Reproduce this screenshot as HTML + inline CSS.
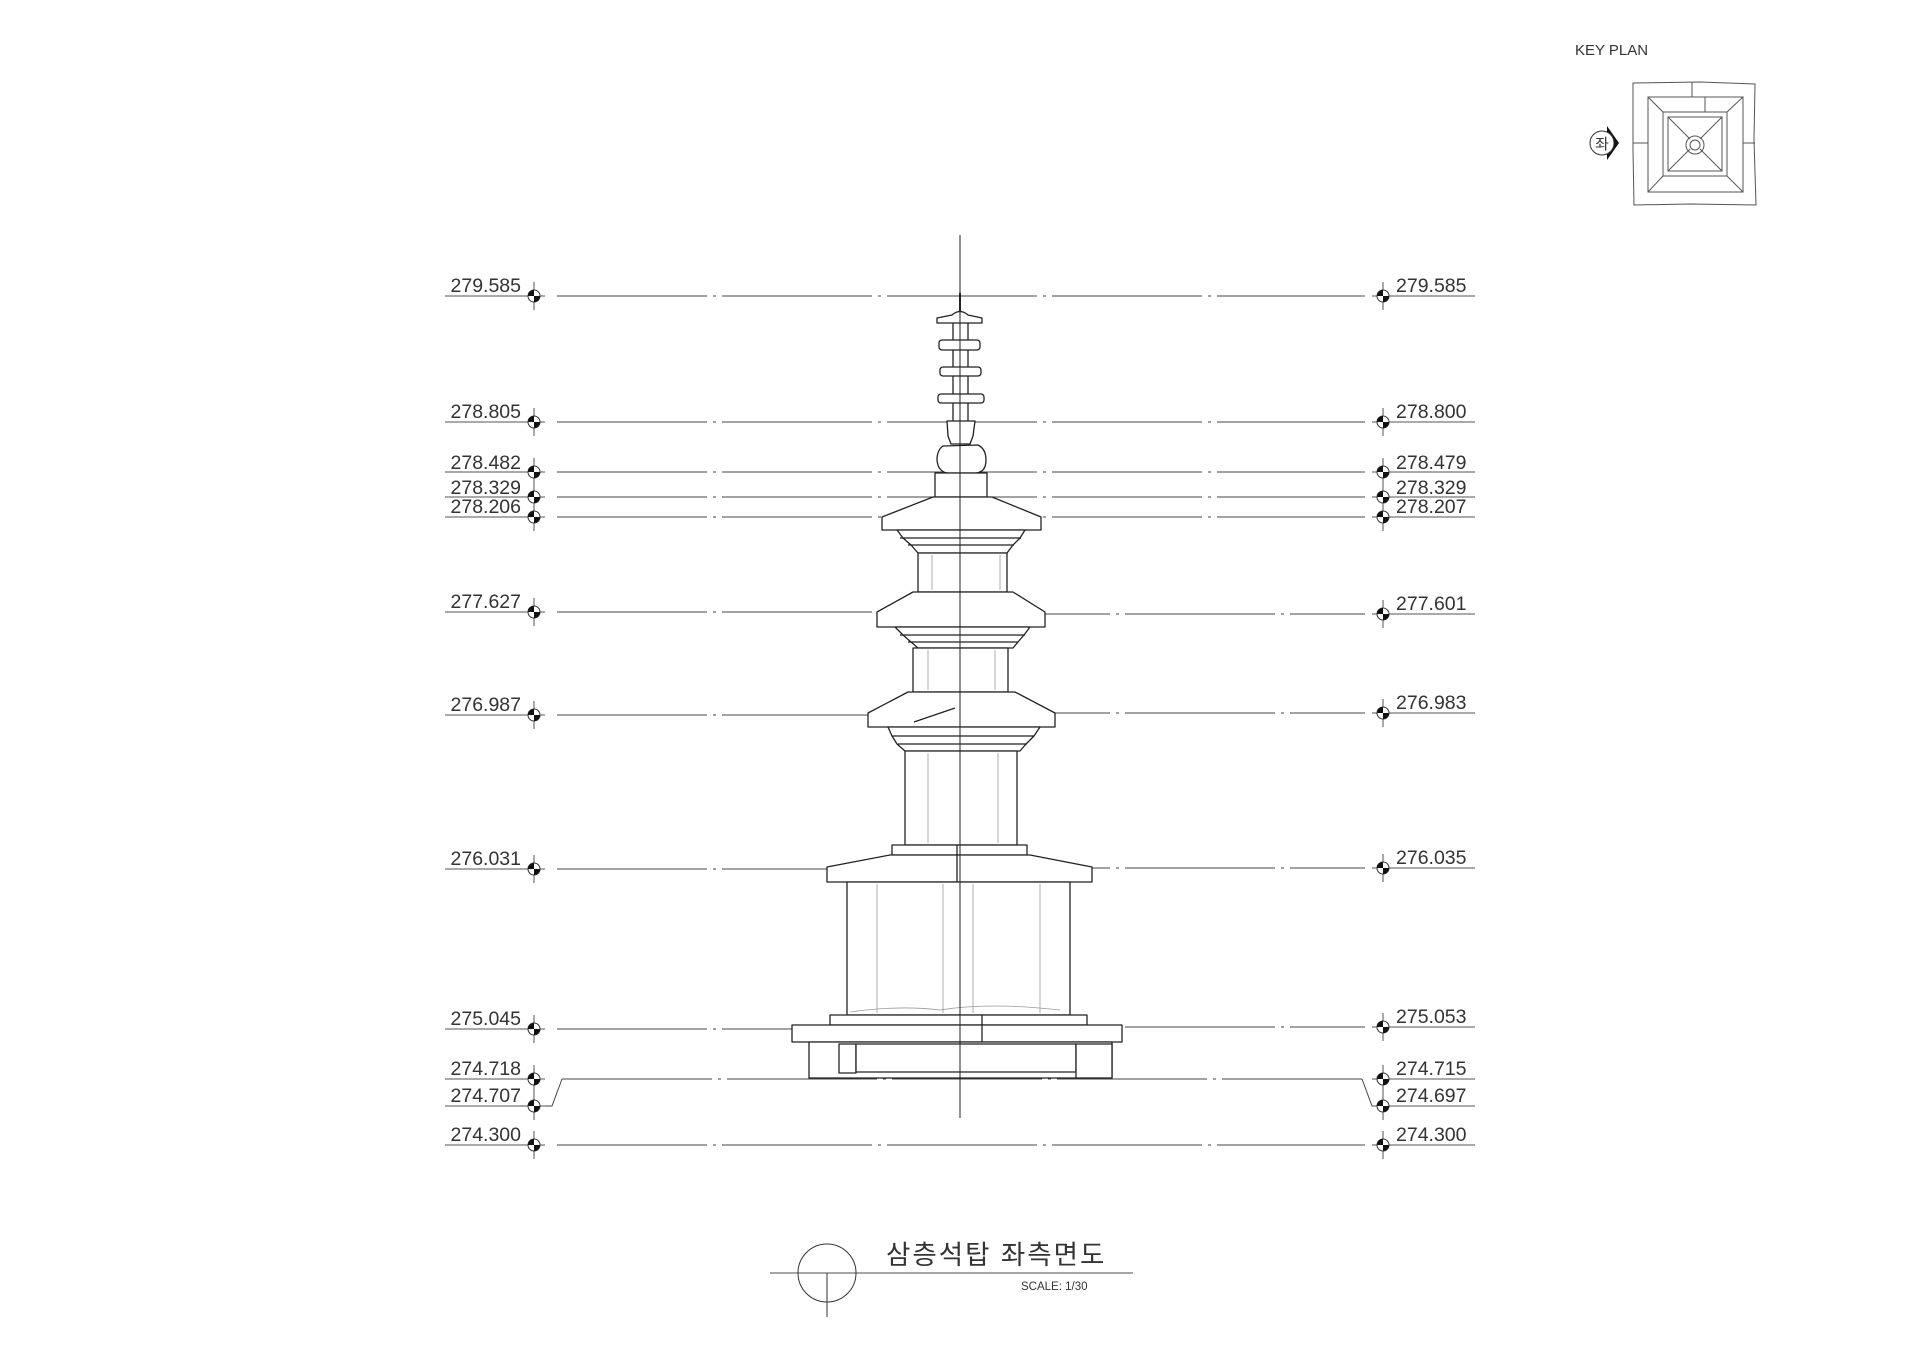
<!DOCTYPE html>
<html><head><meta charset="utf-8"><style>
html,body{margin:0;padding:0;background:#fff;}
svg{display:block;}
text{font-family:"Liberation Sans","Noto Sans CJK KR",sans-serif;fill:#333;}
</style></head><body>
<svg width="1920" height="1356" viewBox="0 0 1920 1356" xmlns="http://www.w3.org/2000/svg">
<defs>
<g id="mk">
<line x1="0" y1="-14" x2="0" y2="14" stroke="#555" stroke-width="1"/>
<circle r="6" fill="#fff" stroke="#333" stroke-width="1"/>
<path d="M0 0 L-6 0 A6 6 0 0 1 0 -6 Z" fill="#111"/>
<path d="M0 0 L6 0 A6 6 0 0 1 0 6 Z" fill="#111"/>
</g>
</defs>

<line x1="960" y1="235" x2="960" y2="1118" stroke="#222" stroke-width="1"/>

<g stroke="#444" stroke-width="1" fill="none" stroke-dasharray="150,6,3,6">
<line x1="557" y1="296" x2="1365" y2="296"/>
<line x1="557" y1="422" x2="1365" y2="422"/>
<line x1="557" y1="472" x2="1365" y2="472"/>
<line x1="557" y1="497" x2="1365" y2="497"/>
<line x1="557" y1="517" x2="1365" y2="517"/>
<line x1="557" y1="612" x2="960" y2="612"/>
<line x1="960" y1="614" x2="1365" y2="614"/>
<line x1="557" y1="715" x2="960" y2="715"/>
<line x1="960" y1="713" x2="1365" y2="713"/>
<line x1="557" y1="869" x2="960" y2="869"/>
<line x1="960" y1="868" x2="1365" y2="868"/>
<line x1="557" y1="1029" x2="960" y2="1029"/>
<line x1="960" y1="1027" x2="1365" y2="1027"/>
<line x1="557" y1="1145" x2="1365" y2="1145"/>
<line x1="562" y1="1079" x2="1362" y2="1079"/>
</g>
<path d="M562 1079 L552 1106 L540 1106 M1362 1079 L1372 1106 L1383 1106" stroke="#444" fill="none"/>

<g stroke="#555" stroke-width="1">
<line x1="445" y1="296" x2="545" y2="296"/><line x1="445" y1="422" x2="545" y2="422"/>
<line x1="445" y1="472" x2="545" y2="472"/><line x1="445" y1="497" x2="545" y2="497"/>
<line x1="445" y1="517" x2="545" y2="517"/><line x1="445" y1="612" x2="545" y2="612"/>
<line x1="445" y1="715" x2="545" y2="715"/><line x1="445" y1="869" x2="545" y2="869"/>
<line x1="445" y1="1029" x2="545" y2="1029"/><line x1="445" y1="1079" x2="545" y2="1079"/>
<line x1="445" y1="1106" x2="545" y2="1106"/><line x1="445" y1="1145" x2="545" y2="1145"/>
<line x1="1372" y1="296" x2="1475" y2="296"/><line x1="1372" y1="422" x2="1475" y2="422"/>
<line x1="1372" y1="472" x2="1475" y2="472"/><line x1="1372" y1="497" x2="1475" y2="497"/>
<line x1="1372" y1="517" x2="1475" y2="517"/><line x1="1372" y1="614" x2="1475" y2="614"/>
<line x1="1372" y1="713" x2="1475" y2="713"/><line x1="1372" y1="868" x2="1475" y2="868"/>
<line x1="1372" y1="1027" x2="1475" y2="1027"/><line x1="1372" y1="1079" x2="1475" y2="1079"/>
<line x1="1372" y1="1106" x2="1475" y2="1106"/><line x1="1372" y1="1145" x2="1475" y2="1145"/>
</g>
<g font-size="19.5" text-anchor="end">
<text x="521" y="292">279.585</text><text x="521" y="418">278.805</text>
<text x="521" y="469">278.482</text><text x="521" y="494">278.329</text>
<text x="521" y="513">278.206</text><text x="521" y="608">277.627</text>
<text x="521" y="711">276.987</text><text x="521" y="865">276.031</text>
<text x="521" y="1025">275.045</text><text x="521" y="1075">274.718</text>
<text x="521" y="1102">274.707</text><text x="521" y="1141">274.300</text>
</g>
<g font-size="19.5">
<text x="1396" y="292">279.585</text><text x="1396" y="418">278.800</text>
<text x="1396" y="469">278.479</text><text x="1396" y="494">278.329</text>
<text x="1396" y="513">278.207</text><text x="1396" y="610">277.601</text>
<text x="1396" y="709">276.983</text><text x="1396" y="864">276.035</text>
<text x="1396" y="1023">275.053</text><text x="1396" y="1075">274.715</text>
<text x="1396" y="1102">274.697</text><text x="1396" y="1141">274.300</text>
</g>
<g>
<use href="#mk" x="534" y="296"/><use href="#mk" x="534" y="422"/><use href="#mk" x="534" y="472"/>
<use href="#mk" x="534" y="497"/><use href="#mk" x="534" y="517"/><use href="#mk" x="534" y="612"/>
<use href="#mk" x="534" y="715"/><use href="#mk" x="534" y="869"/><use href="#mk" x="534" y="1029"/>
<use href="#mk" x="534" y="1079"/><use href="#mk" x="534" y="1106"/><use href="#mk" x="534" y="1145"/>
<use href="#mk" x="1383" y="296"/><use href="#mk" x="1383" y="422"/><use href="#mk" x="1383" y="472"/>
<use href="#mk" x="1383" y="497"/><use href="#mk" x="1383" y="517"/><use href="#mk" x="1383" y="614"/>
<use href="#mk" x="1383" y="713"/><use href="#mk" x="1383" y="868"/><use href="#mk" x="1383" y="1027"/>
<use href="#mk" x="1383" y="1079"/><use href="#mk" x="1383" y="1106"/><use href="#mk" x="1383" y="1145"/>
</g>

<g stroke="#222" stroke-width="1.3" fill="#fff" stroke-linejoin="round">
<line x1="960" y1="293" x2="960" y2="315" stroke-width="2"/>
<rect x="953" y="315" width="15" height="108"/>
<path d="M952 315 Q960 308 968 315 L982 318 L982 323 L937 323 L937 318 Z"/>
<rect x="939" y="340" width="41" height="10" rx="3"/>
<rect x="940" y="367" width="41" height="9" rx="3"/>
<rect x="938" y="394" width="46" height="9" rx="3"/>
<path d="M947 421 L975 421 L973 436 L970 444 L951 444 L948 436 Z"/>
<path d="M943 446 Q937 450 937 460 Q938 472 948 473 L976 473 Q986 472 986 460 Q986 449 978 445 Z"/>
<rect x="935" y="473" width="52" height="24"/>
<path d="M933 497 L992 497 L1041 517 L1041 530 L882 530 L882 517 Z"/>
<path d="M897 530 L1025 530 L1020 538 L1013 545 L1007 553 L918 553 L911 545 L903 538 Z"/>
<line x1="900" y1="538" x2="1021" y2="538"/><line x1="908" y1="545" x2="1014" y2="545"/>
<rect x="918" y="553" width="89" height="39"/>
<path d="M913 592 L1013 592 L1045 612 L1045 627 L877 627 L877 612 Z"/>
<path d="M895 627 L1030 627 L1024 635 L1018 642 L1013 648 L918 648 L911 642 L903 635 Z"/>
<line x1="900" y1="635" x2="1025" y2="635"/><line x1="908" y1="642" x2="1018" y2="642"/>
<rect x="913" y="648" width="95" height="44"/>
<path d="M908 692 L1015 692 L1055 713 L1055 727 L868 727 L868 713 Z"/>
<path d="M888 727 L1040 727 L1034 736 L1026 744 L1020 751 L905 751 L897 744 L892 736 Z"/>
<line x1="892" y1="736" x2="1034" y2="736"/><line x1="898" y1="744" x2="1027" y2="744"/>
<path d="M914 722 L955 708" fill="none"/>
<rect x="905" y="751" width="112" height="94"/>
<path d="M892 845 L1027 845 L1027 855 L892 855 Z"/>
<path d="M890 855 L1030 855 L1092 867 L1092 882 L827 882 L827 867 Z"/>
<line x1="957" y1="845" x2="957" y2="882"/>
<rect x="847" y="882" width="223" height="133"/>
<rect x="830" y="1015" width="257" height="10"/>
<rect x="792" y="1025" width="330" height="17"/>
<line x1="982" y1="1015" x2="982" y2="1042"/>
<rect x="809" y="1042" width="303" height="36"/>
<rect x="839" y="1044" width="17" height="29"/>
<rect x="856" y="1044" width="220" height="28"/>
<rect x="1076" y="1044" width="36" height="34"/>
</g>
<g stroke="#999" stroke-width="0.8" fill="none">
<line x1="877" y1="884" x2="877" y2="1013"/><line x1="943" y1="884" x2="943" y2="1013"/>
<line x1="973" y1="884" x2="973" y2="1013"/><line x1="1040" y1="884" x2="1040" y2="1013"/>
<line x1="928" y1="753" x2="928" y2="843"/><line x1="998" y1="753" x2="998" y2="843"/>
<line x1="928" y1="650" x2="928" y2="690"/><line x1="995" y1="650" x2="995" y2="690"/>
<line x1="932" y1="555" x2="932" y2="590"/><line x1="1000" y1="555" x2="1000" y2="590"/>
<path d="M850 1012 Q900 1005 940 1010 Q990 1002 1060 1010"/>
</g>
<line x1="960" y1="235" x2="960" y2="1118" stroke="#222" stroke-width="1"/>

<text x="1575" y="55" font-size="15">KEY PLAN</text>
<g stroke="#555" stroke-width="1" fill="none">
<path d="M1633 83 L1700 82 L1755 84 L1754 140 L1756 205 L1690 204 L1634 205 L1633 150 Z"/>
<rect x="1648" y="97" width="95" height="95"/>
<rect x="1663" y="112" width="64" height="64"/>
<rect x="1668" y="117" width="54" height="54"/>
<line x1="1648" y1="97" x2="1663" y2="112"/><line x1="1743" y1="97" x2="1727" y2="112"/>
<line x1="1648" y1="192" x2="1663" y2="176"/><line x1="1743" y1="192" x2="1727" y2="176"/>
<line x1="1668" y1="117" x2="1690" y2="139"/><line x1="1722" y1="117" x2="1700" y2="139"/>
<line x1="1668" y1="171" x2="1690" y2="149"/><line x1="1722" y1="171" x2="1700" y2="149"/>
<line x1="1633" y1="143" x2="1648" y2="143"/><line x1="1743" y1="143" x2="1755" y2="143"/>
<line x1="1692" y1="82" x2="1692" y2="97"/><line x1="1705" y1="97" x2="1705" y2="112"/>
<circle cx="1695" cy="145" r="9"/><circle cx="1695" cy="145" r="5"/>
</g>
<path d="M1607 126 L1619 143 L1607 160 Z" fill="#111"/>
<circle cx="1602" cy="143" r="12" fill="#fff" stroke="#333"/>
<text x="1602" y="149" font-size="15" text-anchor="middle">좌</text>

<line x1="770" y1="1273" x2="1133" y2="1273" stroke="#888" stroke-width="1.5"/>
<circle cx="827" cy="1273" r="29" fill="none" stroke="#333"/>
<line x1="827" y1="1273" x2="827" y2="1317" stroke="#333"/>
<text x="886" y="1264" font-size="26.5" letter-spacing="2">삼층석탑 좌측면도</text>
<text x="1021" y="1290" font-size="11.5">SCALE: 1/30</text>
</svg>
</body></html>
